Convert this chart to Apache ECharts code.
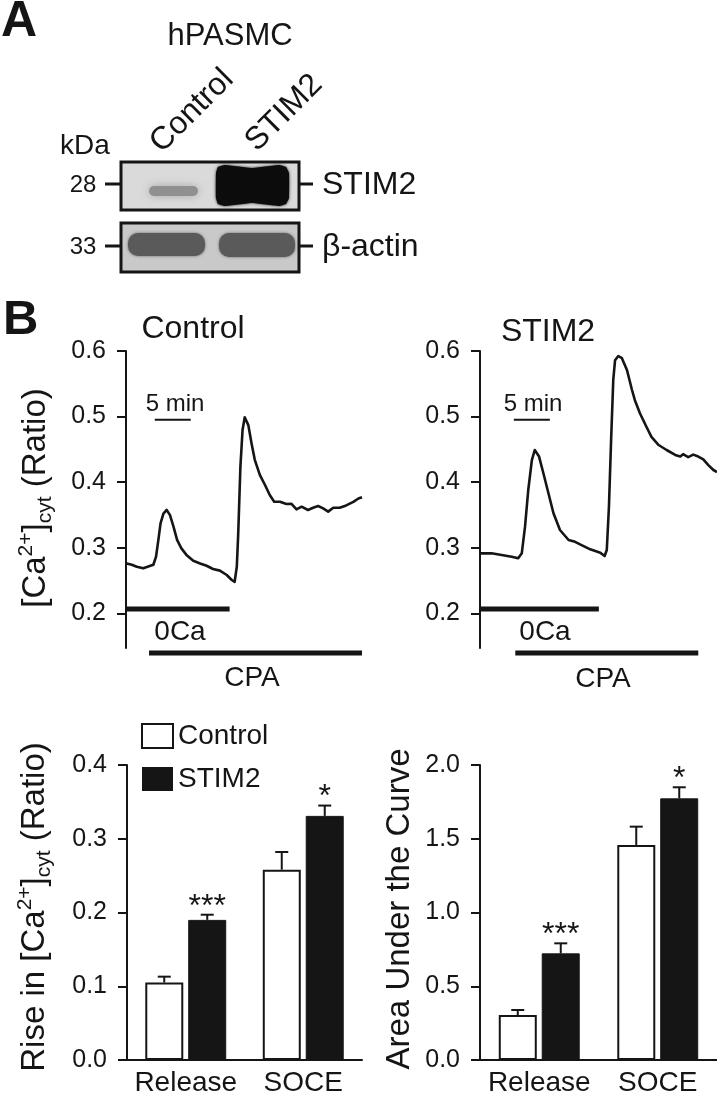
<!DOCTYPE html>
<html><head><meta charset="utf-8">
<script src="https://cdn.jsdelivr.net/npm/echarts@6/dist/echarts.min.js"></script>
<style>html,body{margin:0;padding:0;background:#fff}#c{width:717px;height:1103px}</style>
</head><body><div id="c"></div>
<script>
// ---------- DATA ----------
// Panel B traces: time (min) and [Ca2+]cyt ratio
const timeControl  = [0.1,0.8,1.5,2.4,3.3,3.8,4.17,4.5,4.8,5.2,5.65,6.1,6.6,7.1,7.7,8.4,9.35,10.3,11.2,12.1,13.05,14.0,14.7,15.1,15.4,15.6,15.9,16.2,16.5,17.0,17.45,17.9,18.6,19.3,20.0,20.6,21.4,22.3,23.0,23.7,24.4,25.3,26.0,26.7,27.4,28.1,28.8,29.7,30.6,31.6,32.3,32.8];
const ratioControl = [0.276,0.274,0.271,0.2685,0.272,0.274,0.286,0.312,0.337,0.352,0.3575,0.350,0.332,0.312,0.299,0.289,0.280,0.276,0.2725,0.2675,0.265,0.2583,0.2507,0.248,0.271,0.322,0.4235,0.4795,0.499,0.487,0.459,0.434,0.411,0.396,0.380,0.370,0.370,0.3666,0.367,0.3585,0.3625,0.3575,0.361,0.3635,0.360,0.355,0.361,0.361,0.3645,0.370,0.375,0.377];
const timeStim2  = [0.1,1.6,3.0,4.4,5.3,5.8,6.25,6.7,7.2,7.6,8.2,8.8,9.5,10.2,11.1,12.3,13.2,14.1,15.3,16.7,17.3,17.6,17.9,18.2,18.5,18.75,19.2,19.7,20.4,21.1,21.5,22.2,23.1,23.8,24.8,25.9,27.1,27.8,28.2,28.9,29.6,30.3,31.0,31.7,32.4,32.9];
const ratioStim2 = [0.2914,0.2914,0.2888,0.2863,0.2838,0.2914,0.332,0.388,0.4337,0.449,0.439,0.4135,0.383,0.3525,0.327,0.3117,0.309,0.304,0.2975,0.2924,0.2873,0.2965,0.3625,0.4643,0.5558,0.586,0.5924,0.589,0.571,0.5405,0.525,0.505,0.4845,0.469,0.4566,0.449,0.4414,0.439,0.4426,0.438,0.442,0.439,0.4348,0.426,0.4185,0.4154];
const traceTicks = [0.2, 0.3, 0.4, 0.5, 0.6];
// treatment periods (min)
const zeroCaControl = [0, 14.4];
const cpaControl    = [3.2, 32.8];
const zeroCaStim2   = [0, 16.5];
const cpaStim2      = [4.9, 30.3];
const scaleBarControl = [4.0, 9.0];   // 5 min
const scaleBarStim2   = [4.7, 9.7];
// Bar charts
const barCategories = ['Release', 'SOCE'];
const riseControl    = [0.105, 0.258];
const riseControlErr = [0.008, 0.024];
const riseStim2      = [0.190, 0.331];
const riseStim2Err   = [0.007, 0.014];
const riseStim2Sig   = ['***', '*'];
const aucControl     = [0.305, 1.458];
const aucControlErr  = [0.034, 0.124];
const aucStim2       = [0.723, 1.774];
const aucStim2Err    = [0.068, 0.075];
const aucStim2Sig    = ['***', '*'];

// ---------- STYLE ----------
const FF = '"Liberation Sans", Arial, Helvetica, sans-serif';
const INK = '#151515';
const LVL_0CA = 0.2065, LVL_CPA = 0.1394, LVL_SCALE = 0.495;
const BAR_W = 38, BAR_GAP = '13%', BAR_OFF = (38 + 5) / 2, CAP = 6.5;

const zip = (a, b) => a.map((v, i) => [v, b[i]]);
const seg = (r, lvl) => [[r[0], lvl], [r[1], lvl]];

function traceY(gi) {
  return {
    gridIndex: gi, type: 'value', min: 0.147, max: 0.6,
    axisLine: {show: true, onZero: false, lineStyle: {color: INK, width: 2}},
    axisTick: {show: true, customValues: traceTicks, length: 9, lineStyle: {color: INK, width: 2}},
    axisLabel: {show: true, customValues: traceTicks, margin: 20, fontSize: 25, fontFamily: FF, color: INK,
                formatter: v => v.toFixed(1)},
    splitLine: {show: false}
  };
}
function traceX(gi, max) {
  return {gridIndex: gi, type: 'value', min: 0, max: max, show: false};
}
function barX(gi) {
  return {gridIndex: gi, type: 'category', data: barCategories,
    axisLine: {show: true, lineStyle: {color: INK, width: 2}},
    axisTick: {show: false},
    axisLabel: {interval: 0, hideOverlap: false, fontSize: 28, fontFamily: FF, color: INK, margin: 9},
    splitLine: {show: false}};
}
function barY(gi, max, interval) {
  return {gridIndex: gi, type: 'value', min: 0, max: max, interval: interval,
    axisLine: {show: true, lineStyle: {color: INK, width: 2}},
    axisTick: {show: true, length: 9, lineStyle: {color: INK, width: 2}},
    axisLabel: {margin: 20, fontSize: 25, fontFamily: FF, color: INK, formatter: v => v.toFixed(1)},
    splitLine: {show: false}};
}
function lineSeries(gi, data, width, clip) {
  return {type: 'line', xAxisIndex: gi, yAxisIndex: gi, data: data, showSymbol: false, symbol: 'none',
    lineStyle: {color: INK, width: width, cap: 'butt', join: 'round'}, clip: clip, silent: true, z: 3};
}
function errSeries(gi, means, errs, sign, sigs) {
  return {type: 'custom', xAxisIndex: gi, yAxisIndex: gi, z: 4, silent: true,
    data: means.map((m, i) => [i, m, errs[i]]),
    renderItem: function (params, api) {
      const cat = api.value(0), m = api.value(1), e = api.value(2);
      const base = api.coord([cat, m]);
      const top = api.coord([cat, m + e]);
      const x = base[0] + sign * BAR_OFF;
      const ch = [
        {type: 'line', shape: {x1: x, y1: base[1], x2: x, y2: top[1]}, style: {stroke: INK, lineWidth: 2}},
        {type: 'line', shape: {x1: x - CAP, y1: top[1], x2: x + CAP, y2: top[1]}, style: {stroke: INK, lineWidth: 2}}
      ];
      if (sigs && sigs[params.dataIndex]) {
        ch.push({type: 'text', x: x, y: top[1] - 8,
          style: {text: sigs[params.dataIndex], align: 'center', verticalAlign: 'middle',
                  fontSize: 32, fontFamily: FF, fill: INK}});
      }
      return {type: 'group', children: ch};
    }};
}

// ---------- GRAPHICS (panel A blot + annotations) ----------
function txt(x, y, text, size, opts) {
  opts = opts || {};
  return {type: 'text', x: x, y: y, rotation: opts.rot || 0, silent: true,
    style: Object.assign({text: text, fontSize: size, fontFamily: FF, fill: INK,
      align: opts.align || 'center', verticalAlign: 'middle', fontWeight: opts.bold ? 'bold' : 'normal'}, opts.style || {})};
}
function ln(x1, y1, x2, y2, w) {
  return {type: 'line', silent: true, shape: {x1, y1, x2, y2}, style: {stroke: INK, lineWidth: w || 3}};
}
const caLabel = (prefix, x, y) => ({type: 'text', x: x, y: y, rotation: Math.PI / 2, silent: true,
  style: {text: (prefix ? '{m|' + prefix + '}' : '') + '{m|[Ca}{sup|2+}{m|]}{sub|cyt}{m| (Ratio)}',
    align: 'center', verticalAlign: 'middle',
    rich: {
      m: {fontSize: 33, fontFamily: FF, fill: INK, lineHeight: 40, verticalAlign: 'middle'},
      sup: {fontSize: 21, fontFamily: FF, fill: INK, lineHeight: 40, verticalAlign: 'top'},
      sub: {fontSize: 21, fontFamily: FF, fill: INK, lineHeight: 40, verticalAlign: 'bottom'}
    }}});

const graphics = [
  txt(1, 22, 'A', 50, {bold: true, align: 'left'}),
  txt(230, 36, 'hPASMC', 31),
  txt(192, 111, 'Control', 32, {rot: Math.PI / 4}),
  txt(284, 113, 'STIM2', 32, {rot: Math.PI / 4}),
  txt(85, 146, 'kDa', 28),
  txt(83, 185, '28', 24),
  txt(83, 247, '33', 24),
  // blot 1
  {type: 'rect', silent: true, shape: {x: 121, y: 162, width: 178, height: 48},
    style: {fill: '#dadada', stroke: INK, lineWidth: 3}},
  {type: 'rect', silent: true, shape: {x: 149, y: 186, width: 49, height: 10, r: 5},
    style: {fill: '#909090', shadowBlur: 8, shadowColor: '#a8a8a8'}},
  {type: 'polygon', silent: true,
    shape: {points: [[216,173],[218,167],[225,165],[252,168],[279,165],[286,167],[289,173],[289,198],[286,204],[279,206],[252,203],[225,206],[218,204],[216,198]], smooth: 0.12},
    style: {fill: '#0c0c0c', shadowBlur: 3, shadowColor: '#222'}},
  // blot 2
  {type: 'rect', silent: true, shape: {x: 121, y: 223, width: 178, height: 49},
    style: {fill: '#c9c9c9', stroke: INK, lineWidth: 3}},
  {type: 'rect', silent: true, shape: {x: 128, y: 233, width: 77, height: 23, r: 10},
    style: {fill: '#5a5a5a', shadowBlur: 3, shadowColor: '#666'}},
  {type: 'rect', silent: true, shape: {x: 219, y: 233, width: 76, height: 24, r: 10},
    style: {fill: '#5a5a5a', shadowBlur: 3, shadowColor: '#666'}},
  ln(105, 184, 120, 184), ln(300, 184, 313, 184),
  ln(105, 246, 120, 246), ln(300, 246, 313, 246),
  txt(322, 185, 'STIM2', 32, {align: 'left'}),
  txt(322, 247, 'β-actin', 32, {align: 'left'}),
  // panel B labels
  txt(3, 320, 'B', 49, {bold: true, align: 'left'}),
  txt(193, 329, 'Control', 32),
  txt(548, 332, 'STIM2', 32),
  caLabel('', 36, 498),
  txt(175, 404, '5 min', 24),
  txt(533, 404, '5 min', 24),
  txt(180, 632, '0Ca', 28),
  txt(252, 678, 'CPA', 28),
  txt(545, 632, '0Ca', 28),
  txt(603, 679, 'CPA', 28),
  caLabel('Rise in ', 35, 907),
  txt(400, 909, 'Area Under the Curve', 33, {rot: Math.PI / 2})
];

// ---------- CHART ----------
const chart = echarts.init(document.getElementById('c'), null, {renderer: 'canvas'});
chart.setOption({
  animation: false,
  backgroundColor: '#fff',
  grid: [
    {left: 126, top: 351, width: 236, height: 297, containLabel: false, outerBoundsMode: 'none'},
    {left: 480, top: 351, width: 237, height: 297, containLabel: false, outerBoundsMode: 'none'},
    {left: 127, top: 765, width: 235, height: 295, containLabel: false, outerBoundsMode: 'none'},
    {left: 480, top: 765, width: 237, height: 295, containLabel: false, outerBoundsMode: 'none'}
  ],
  xAxis: [traceX(0, 32.8), traceX(1, 32.9), barX(2), barX(3)],
  yAxis: [traceY(0), traceY(1), barY(2, 0.4, 0.1), barY(3, 2.0, 0.5)],
  legend: {
    left: 141, top: 721, orient: 'vertical', padding: 0, itemGap: 13,
    itemWidth: 31, itemHeight: 24, icon: 'rect', selectedMode: false,
    textStyle: {fontSize: 28, fontFamily: FF, color: INK, lineHeight: 30, padding: [0, 0, 0, 0]},
    data: [
      {name: 'Control', itemStyle: {color: '#fff', borderColor: INK, borderWidth: 2}},
      {name: 'STIM2', itemStyle: {color: INK, borderColor: INK, borderWidth: 0}}
    ]
  },
  graphic: graphics,
  series: [
    lineSeries(0, zip(timeControl, ratioControl), 2.6, true),
    lineSeries(0, seg(zeroCaControl, LVL_0CA), 5, false),
    lineSeries(0, seg(cpaControl, LVL_CPA), 5, false),
    lineSeries(0, seg(scaleBarControl, LVL_SCALE), 2, false),
    lineSeries(1, zip(timeStim2, ratioStim2), 2.6, true),
    lineSeries(1, seg(zeroCaStim2, LVL_0CA), 5, false),
    lineSeries(1, seg(cpaStim2, LVL_CPA), 5, false),
    lineSeries(1, seg(scaleBarStim2, LVL_SCALE), 2, false),
    {name: 'Control', type: 'bar', xAxisIndex: 2, yAxisIndex: 2, data: riseControl, barWidth: BAR_W, barGap: BAR_GAP,
      itemStyle: {color: '#fff', borderColor: INK, borderWidth: 2}, silent: true},
    {name: 'STIM2', type: 'bar', xAxisIndex: 2, yAxisIndex: 2, data: riseStim2, barWidth: BAR_W, barGap: BAR_GAP,
      itemStyle: {color: INK, borderColor: INK, borderWidth: 1}, silent: true},
    errSeries(2, riseControl, riseControlErr, -1, null),
    errSeries(2, riseStim2, riseStim2Err, 1, riseStim2Sig),
    {name: 'Control', type: 'bar', xAxisIndex: 3, yAxisIndex: 3, data: aucControl, barWidth: BAR_W, barGap: BAR_GAP,
      itemStyle: {color: '#fff', borderColor: INK, borderWidth: 2}, silent: true},
    {name: 'STIM2', type: 'bar', xAxisIndex: 3, yAxisIndex: 3, data: aucStim2, barWidth: BAR_W, barGap: BAR_GAP,
      itemStyle: {color: INK, borderColor: INK, borderWidth: 1}, silent: true},
    errSeries(3, aucControl, aucControlErr, -1, null),
    errSeries(3, aucStim2, aucStim2Err, 1, aucStim2Sig)
  ]
});
</script></body></html>
